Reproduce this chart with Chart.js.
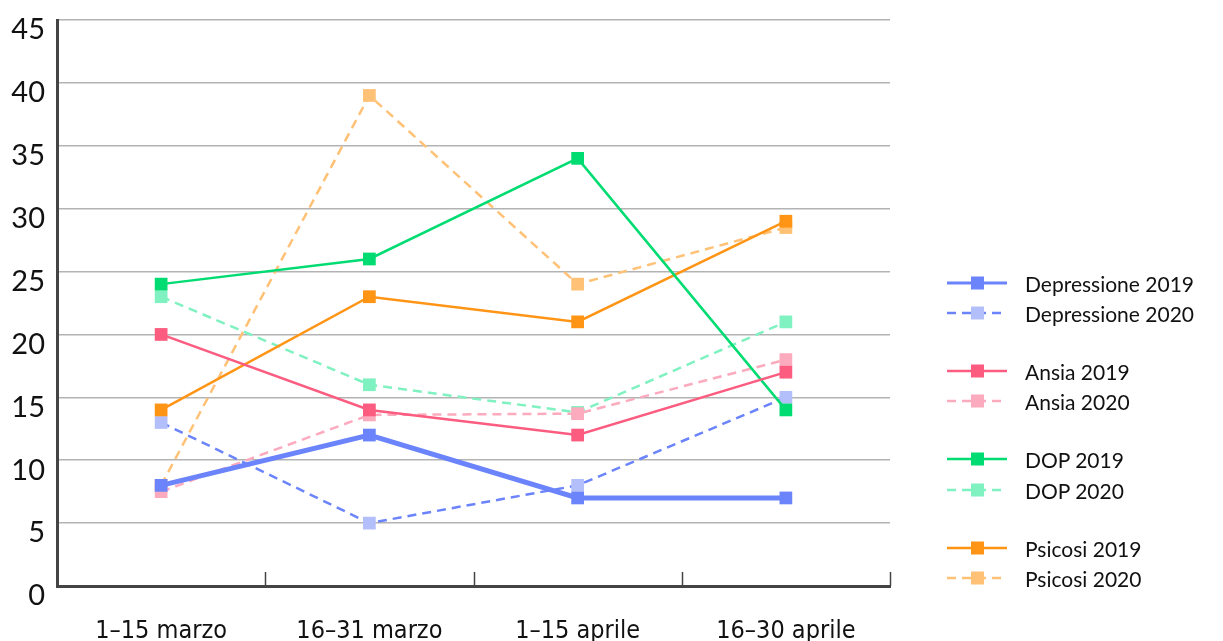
<!DOCTYPE html>
<html>
<head>
<meta charset="utf-8">
<script src="https://cdn.jsdelivr.net/npm/chart.js@4"></script>
<style>
  html, body { margin: 0; padding: 0; background: #fff; }
  #wrap { position: relative; width: 1223px; height: 641px; }
  #chart { position: absolute; left: 0; top: 0; }
  #legend { position: absolute; left: 946px; top: 0; font-family: "Lato", "Open Sans", sans-serif; font-size: 21px; color: #111; }
  .row { position: absolute; left: 0; height: 30px; display: flex; align-items: center; white-space: nowrap; }
  .row svg { margin-right: 17px; }
</style>
</head>
<body>
<div id="wrap">
  <canvas id="chart" width="1223" height="641"></canvas>
  <div id="legend"></div>
</div>
<script>
// Periods on the x axis
const categories = ['1–15 marzo', '16–31 marzo', '1–15 aprile', '16–30 aprile'];

// Number of cases per period
const depressione2019 = [8, 12, 7, 7];
const depressione2020 = [13, 5, 8, 15];
const ansia2019 = [20, 14, 12, 17];
const ansia2020 = [7.5, 13.6, 13.7, 18];
const dop2019 = [24, 26, 34, 14];
const dop2020 = [23, 16, 13.8, 21];
const psicosi2019 = [14, 23, 21, 29];
const psicosi2020 = [8, 39, 24, 28.5];

// Series labels and colours (line colour, marker colour)
const seriesNames = ['Depressione 2019', 'Depressione 2020', 'Ansia 2019', 'Ansia 2020',
                     'DOP 2019', 'DOP 2020', 'Psicosi 2019', 'Psicosi 2020'];
const lineColors = ['#6b84fb', '#6b84fb', '#fb5c80', '#fcaabe',
                    '#00dc72', '#80f1c1', '#ff9415', '#ffc176'];
const markerColors = ['#6b84fb', '#b3bffa', '#fb5c80', '#fcaabe',
                      '#00dc72', '#80f1c1', '#ff9415', '#ffc176'];
const seriesValues = [depressione2019, depressione2020, ansia2019, ansia2020,
                      dop2019, dop2020, psicosi2019, psicosi2020];

const yMin = 0, yMax = 45, yStep = 5;

const datasets = seriesNames.map((name, i) => {
  const dashed = name.endsWith('2020');
  const thick = i === 0;
  return {
    label: name,
    data: seriesValues[i],
    borderColor: lineColors[i],
    backgroundColor: markerColors[i],
    pointBackgroundColor: markerColors[i],
    borderWidth: thick ? 5 : 2.5,
    borderDash: dashed ? [9, 6] : [],
    pointStyle: 'rect',
    pointRadius: 9,
    pointHoverRadius: 9,
    pointBorderWidth: 0,
    tension: 0,
    order: thick ? 0 : (dashed ? 2 : 1)
  };
});

// Short ticks that rise from the x axis at category boundaries
const boundaryTicks = {
  id: 'boundaryTicks',
  afterDraw(chart) {
    const x = chart.scales.x;
    const area = chart.chartArea;
    const ctx = chart.ctx;
    ctx.save();
    ctx.strokeStyle = '#444';
    ctx.lineWidth = 1.5;
    const n = categories.length;
    const positions = [];
    for (let i = 0; i < n - 1; i++) {
      positions.push((x.getPixelForValue(i) + x.getPixelForValue(i + 1)) / 2);
    }
    positions.push(area.right);
    positions.forEach(px => {
      ctx.beginPath();
      ctx.moveTo(Math.round(px) + 0.5, area.bottom);
      ctx.lineTo(Math.round(px) + 0.5, area.bottom - 14);
      ctx.stroke();
    });
    ctx.restore();
  }
};

new Chart(document.getElementById('chart'), {
  type: 'line',
  data: { labels: categories, datasets },
  options: {
    responsive: false,
    animation: false,
    events: [],
    layout: { padding: { top: 20, right: 333, left: 0, bottom: 0 } },
    plugins: { legend: { display: false }, tooltip: { enabled: false } },
    scales: {
      x: {
        offset: true,
        grid: { display: false },
        border: { display: true, color: '#444', width: 3 },
        ticks: {
          color: '#111',
          padding: 22,
          font: { family: '"Liberation Sans Narrow", "DejaVu Sans Condensed", sans-serif', size: 25 }
        },
        afterFit(s) { s.height = 55; s.paddingLeft = 0; s.paddingRight = 0; }
      },
      y: {
        min: yMin, max: yMax,
        grid: { color: '#b3b3b3', lineWidth: 1.5, drawTicks: false },
        border: { display: true, color: '#444', width: 3 },
        ticks: {
          stepSize: yStep,
          color: '#111',
          padding: 12,
          labelOffset: 10,
          font: { family: '"Lato", "Open Sans", sans-serif', size: 29 }
        },
        afterFit(s) { s.width = 57; s.paddingTop = 0; s.paddingBottom = 0; }
      }
    }
  },
  plugins: [boundaryTicks]
});

// Legend: pairs of series separated by a gap
const legend = document.getElementById('legend');
const rowTops = [268, 298, 356, 386, 444, 475, 533, 563];
seriesNames.forEach((name, i) => {
  const dashed = name.endsWith('2020');
  const row = document.createElement('div');
  row.className = 'row';
  row.style.top = rowTops[i] + 'px';
  const w = i === 0 ? 3 : 2.5;
  const dash = dashed ? 'stroke-dasharray="9 6"' : '';
  row.innerHTML =
    '<svg width="62" height="16" viewBox="0 0 62 16">' +
    '<line x1="1" y1="8" x2="61" y2="8" stroke="' + lineColors[i] + '" stroke-width="' + w + '" ' + dash + '/>' +
    '<rect x="25" y="1.5" width="13" height="13" fill="' + markerColors[i] + '"/>' +
    '</svg><span>' + name + '</span>';
  legend.appendChild(row);
});
</script>
</body>
</html>
